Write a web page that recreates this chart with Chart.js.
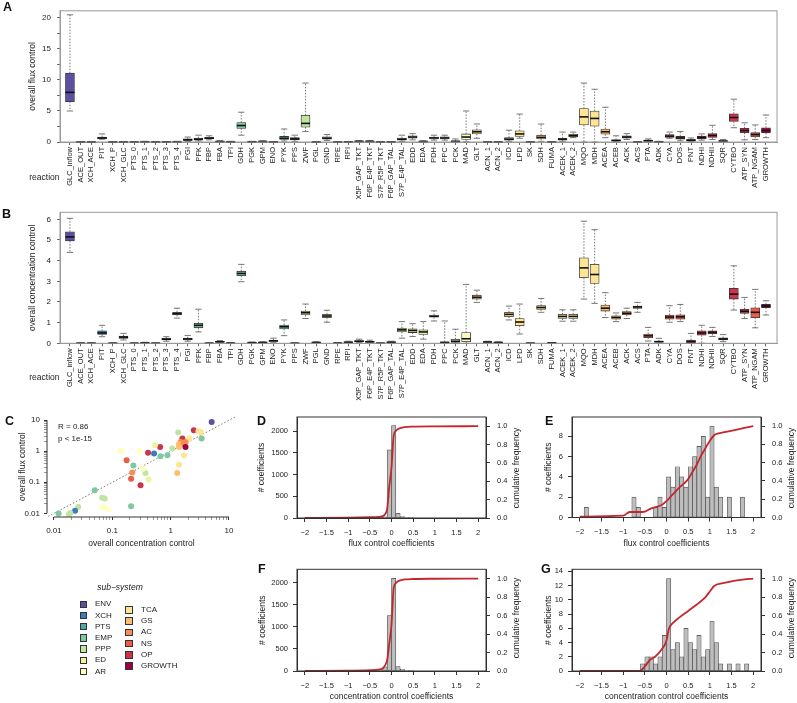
<!DOCTYPE html>
<html>
<head>
<meta charset="utf-8">
<title>Flux and concentration control</title>
<script src="https://cdn.jsdelivr.net/npm/chart.js@4.4.1/dist/chart.umd.min.js"></script>
<style>
  body { margin: 0; background: #fff; }
  #fig { position: relative; width: 797px; height: 703px; overflow: hidden; font-family: "Liberation Sans", Arial, sans-serif; color: #222; }
  #fig canvas { position: absolute; left: 0; top: 0; }
  .t { position: absolute; white-space: nowrap; font-size: 8.5px; line-height: 10px; }
  .panel { position: absolute; font-size: 12.5px; font-weight: bold; line-height: 13px; color: #111; }
  .sq { position: absolute; width: 7.5px; height: 7.5px; box-sizing: border-box; border: 1px solid #333; }
</style>
</head>
<body>
<div id="fig">
  <canvas id="chartA" width="797" height="703"></canvas>
  <canvas id="chartB" width="797" height="703"></canvas>
  <canvas id="chartC" width="797" height="703"></canvas>
  <canvas id="chartD" width="797" height="703"></canvas>
  <canvas id="chartE" width="797" height="703"></canvas>
  <canvas id="chartF" width="797" height="703"></canvas>
  <canvas id="chartG" width="797" height="703"></canvas>
</div>
<script>
// ---- data ----
const reactions = ['GLC_inflow', 'ACE_OUT', 'XCH_ACE', 'PIT', 'XCH_P', 'XCH_GLC', 'PTS_0', 'PTS_1', 'PTS_2', 'PTS_3', 'PTS_4',
  'PGI', 'PFK', 'FBP', 'FBA', 'TPI', 'GDH', 'PGK', 'GPM', 'ENO', 'PYK', 'PPS',
  'ZWF', 'PGL', 'GND', 'RPE', 'RPI', 'X5P_GAP_TKT', 'F6P_E4P_TKT', 'S7P_R5P_TKT', 'F6P_GAP_TAL', 'S7P_E4P_TAL',
  'EDD', 'EDA', 'PDH', 'PPC', 'PCK', 'MAD', 'GLT', 'ACN_1', 'ACN_2', 'ICD', 'LPD', 'SK', 'SDH', 'FUMA',
  'ACEK_1', 'ACEK_2', 'MQO', 'MDH', 'ACEA', 'ACEB', 'ACK', 'ACS', 'PTA', 'ADK', 'CYA', 'DOS',
  'PNT', 'NDHI', 'NDHII', 'SQR', 'CYTBO', 'ATP_SYN', 'ATP_NGAM', 'GROWTH'];

const reactionGroups = ['ENV', 'ENV', 'XCH', 'XCH', 'XCH', 'XCH', 'PTS', 'PTS', 'PTS', 'PTS', 'PTS',
  'EMP', 'EMP', 'EMP', 'EMP', 'EMP', 'EMP', 'EMP', 'EMP', 'EMP', 'EMP', 'EMP',
  'PPP', 'PPP', 'PPP', 'PPP', 'PPP', 'PPP', 'PPP', 'PPP', 'PPP', 'PPP',
  'ED', 'ED', 'AR', 'AR', 'AR', 'AR', 'TCA', 'TCA', 'TCA', 'TCA', 'TCA', 'TCA', 'TCA', 'TCA',
  'TCA', 'TCA', 'TCA', 'TCA', 'GS', 'GS', 'AC', 'AC', 'AC', 'NS', 'NS', 'NS',
  'OP', 'OP', 'OP', 'OP', 'OP', 'OP', 'NS', 'GROWTH'];

const groupNames = ['ENV', 'XCH', 'PTS', 'EMP', 'PPP', 'ED', 'AR', 'TCA', 'GS', 'AC', 'NS', 'OP', 'GROWTH'];
const groupColors = {
  ENV: '#5E4FA2', XCH: '#397EB8', PTS: '#4FA8A4', EMP: '#7FC8A0', PPP: '#BFE5A0', ED: '#EAF59E', AR: '#FFFFBF',
  TCA: '#FEE594', GS: '#FDBF6F', AC: '#F98E52', NS: '#EA5D47', OP: '#CC344D', GROWTH: '#9E0142'
};

// [lower whisker, q1, median, q3, upper whisker] per reaction
const fluxStats = [
  [5.0, 6.5, 8.0, 11.1, 20.5], [0, 0.005, 0.01, 0.02, 0.04], [0, 0.005, 0.01, 0.02, 0.04], [0.45, 0.55, 0.65, 0.78, 1.3],
  [0, 0.005, 0.01, 0.02, 0.04], [0, 0.01, 0.02, 0.03, 0.06], [0, 0.01, 0.02, 0.03, 0.06], [0, 0.02, 0.04, 0.06, 0.1],
  [0, 0.01, 0.02, 0.03, 0.06], [0, 0.01, 0.03, 0.05, 0.08], [0, 0.02, 0.04, 0.06, 0.1],
  [0.1, 0.25, 0.35, 0.5, 0.8], [0.15, 0.3, 0.45, 0.62, 1.1], [0.35, 0.5, 0.62, 0.75, 1.0], [0.02, 0.05, 0.08, 0.12, 0.2],
  [0, 0.02, 0.04, 0.06, 0.1], [1.1, 2.2, 2.65, 3.15, 4.8], [0, 0.02, 0.04, 0.06, 0.1], [0.02, 0.05, 0.08, 0.12, 0.2],
  [0, 0.01, 0.02, 0.03, 0.05], [0.15, 0.4, 0.6, 0.9, 2.1], [0.1, 0.35, 0.5, 0.7, 1.1],
  [1.7, 2.4, 3.0, 4.3, 9.5], [0, 0.01, 0.02, 0.03, 0.05], [0.25, 0.45, 0.62, 0.85, 1.2], [0, 0.01, 0.02, 0.03, 0.05],
  [0, 0.02, 0.03, 0.05, 0.08], [0.02, 0.06, 0.1, 0.14, 0.22], [0.02, 0.06, 0.1, 0.14, 0.22], [0, 0.01, 0.02, 0.04, 0.06],
  [0, 0.01, 0.02, 0.04, 0.06], [0.1, 0.3, 0.45, 0.65, 1.1],
  [0.35, 0.6, 0.8, 1.0, 1.35], [0.02, 0.05, 0.08, 0.12, 0.2], [0.3, 0.5, 0.65, 0.8, 1.1], [0.3, 0.5, 0.65, 0.85, 1.1],
  [0.02, 0.05, 0.1, 0.2, 0.5], [0.05, 0.4, 0.8, 1.3, 5.0], [0.6, 1.3, 1.65, 1.95, 2.9], [0, 0.01, 0.02, 0.03, 0.05],
  [0, 0.01, 0.02, 0.03, 0.05], [0.1, 0.3, 0.45, 0.7, 1.9], [0.6, 0.9, 1.3, 1.8, 4.5], [0, 0.01, 0.02, 0.03, 0.05],
  [0.1, 0.5, 0.75, 1.1, 2.9], [0, 0.01, 0.02, 0.03, 0.05],
  [0.1, 0.3, 0.45, 0.6, 1.6], [0.7, 0.8, 1.0, 1.25, 1.6], [0, 2.75, 4.05, 5.4, 9.5], [0, 2.55, 3.8, 5.0, 8.5],
  [0.7, 1.25, 1.65, 2.1, 5.6], [0.05, 0.15, 0.25, 0.35, 1.0], [0.4, 0.6, 0.8, 1.0, 1.35], [0, 0.01, 0.02, 0.03, 0.05],
  [0.02, 0.1, 0.2, 0.3, 0.5], [0, 0.02, 0.04, 0.06, 0.1], [0.6, 0.75, 0.95, 1.2, 1.6], [0.2, 0.45, 0.65, 0.9, 1.7],
  [0.05, 0.15, 0.3, 0.4, 0.65], [0.3, 0.55, 0.75, 0.95, 1.3], [0.4, 0.75, 1.05, 1.35, 2.7], [0.02, 0.08, 0.15, 0.2, 0.4],
  [2.3, 3.3, 3.95, 4.55, 6.9], [0.35, 1.5, 1.85, 2.2, 3.1], [0.4, 0.82, 1.2, 1.5, 2.75], [0.7, 1.45, 1.85, 2.3, 4.35]
];

const concStats = [
  [4.4, 4.95, 5.15, 5.4, 6.05], [0, 0.002, 0.005, 0.01, 0.02], [0, 0.002, 0.005, 0.01, 0.02], [0.32, 0.43, 0.5, 0.6, 0.87],
  [0, 0.002, 0.005, 0.01, 0.02], [0.16, 0.24, 0.3, 0.35, 0.48], [0, 0.002, 0.005, 0.01, 0.02], [0, 0.01, 0.02, 0.03, 0.05],
  [0, 0.002, 0.005, 0.01, 0.02], [0.1, 0.16, 0.2, 0.24, 0.32], [1.22, 1.37, 1.43, 1.5, 1.7],
  [0.1, 0.16, 0.21, 0.25, 0.38], [0.55, 0.75, 0.87, 0.97, 1.65], [0, 0.002, 0.005, 0.01, 0.02], [0.02, 0.05, 0.07, 0.1, 0.13],
  [0, 0.005, 0.01, 0.015, 0.03], [2.98, 3.27, 3.38, 3.49, 3.82], [0.01, 0.02, 0.03, 0.04, 0.06], [0.01, 0.03, 0.04, 0.05, 0.07],
  [0.05, 0.09, 0.12, 0.15, 0.25], [0.37, 0.69, 0.8, 0.88, 1.13], [0, 0.002, 0.005, 0.01, 0.02],
  [1.2, 1.37, 1.48, 1.56, 1.9], [0.01, 0.03, 0.04, 0.05, 0.07], [1.02, 1.24, 1.32, 1.4, 1.6], [0, 0.005, 0.01, 0.015, 0.03],
  [0.02, 0.04, 0.05, 0.07, 0.1], [0.04, 0.08, 0.1, 0.13, 0.2], [0.03, 0.05, 0.07, 0.09, 0.15], [0, 0.002, 0.005, 0.01, 0.02],
  [0.02, 0.04, 0.05, 0.07, 0.1], [0.25, 0.55, 0.65, 0.74, 1.05],
  [0.33, 0.52, 0.62, 0.7, 0.95], [0.2, 0.43, 0.55, 0.65, 1.05], [1.08, 1.26, 1.31, 1.37, 1.57], [0, 0.02, 0.04, 0.07, 1.08],
  [0, 0.04, 0.1, 0.2, 0.68], [0, 0.08, 0.22, 0.52, 2.85], [1.98, 2.14, 2.23, 2.33, 2.57], [0.02, 0.04, 0.06, 0.08, 0.1],
  [0.01, 0.03, 0.04, 0.05, 0.07], [1.13, 1.29, 1.4, 1.5, 1.8], [0.45, 0.85, 1.03, 1.2, 1.9], [0, 0.002, 0.005, 0.01, 0.02],
  [1.5, 1.64, 1.73, 1.82, 2.17], [0.01, 0.015, 0.02, 0.025, 0.04],
  [1.07, 1.2, 1.3, 1.4, 1.62], [1.07, 1.2, 1.3, 1.4, 1.62], [2.14, 3.17, 3.65, 4.14, 5.91], [1.93, 2.9, 3.33, 3.82, 5.5],
  [1.25, 1.56, 1.7, 1.85, 2.45], [1.05, 1.17, 1.25, 1.33, 1.47], [1.2, 1.37, 1.45, 1.53, 1.7], [1.5, 1.69, 1.76, 1.8, 1.98],
  [0.11, 0.27, 0.36, 0.45, 0.77], [0.01, 0.05, 0.08, 0.1, 0.24], [1.02, 1.17, 1.27, 1.37, 1.82], [1.05, 1.17, 1.28, 1.38, 1.88],
  [0, 0.02, 0.08, 0.16, 0.48], [0, 0.39, 0.5, 0.6, 0.87], [0.33, 0.45, 0.53, 0.6, 0.77], [0.08, 0.16, 0.21, 0.26, 0.42],
  [1.61, 2.14, 2.38, 2.66, 3.75], [1.2, 1.45, 1.55, 1.66, 2.22], [0.75, 1.24, 1.5, 1.72, 2.61], [1.37, 1.72, 1.8, 1.88, 2.06]
];

const fluxTicks = [0, 2.5, 5, 7.5, 10, 12.5, 15, 17.5, 20];
const fluxTickLabels = ['0', '', '5', '', '10', '', '15', '', '20'];
const concTicks = [0, 1, 2, 3, 4, 5, 6];
const concTickLabels = ['0', '1', '2', '3', '4', '5', '6'];

// panel C: overall concentration control vs overall flux control
const cConc = [5.05, 2.5, 3.0, 3.3, 2.1, 3.4, 1.35, 1.59, 1.48, 1.8, 1.39, 1.65, 1.8, 1.39, 1.07, 0.88, 0.67, 0.52, 0.66, 0.54,
  0.41, 0.29, 0.14, 0.176, 0.23, 0.22, 0.21, 0.305, 0.37, 0.34, 0.42, 1.69, 1.39, 1.3, 0.05, 0.067, 0.074, 0.067, 0.084, 0.21,
  0.026, 0.023, 0.019, 0.018, 0.012];
const cFlux = [8.8, 4.75, 4.4, 4.0, 2.6, 2.6, 4.0, 2.57, 2.0, 2.0, 1.68, 1.68, 1.38, 1.38, 1.22, 0.74, 0.69, 0.84, 1.38, 1.56,
  0.9, 1.02, 1.02, 0.51, 0.35, 0.205, 0.13, 0.08, 0.2, 0.28, 0.122, 0.74, 0.37, 0.2, 0.055, 0.032, 0.03, 0.016, 0.0135, 0.017,
  0.016, 0.012, 0.0103, 0.0092, 0.0098];
const cGroup = ['ENV', 'OP', 'TCA', 'TCA', 'TCA', 'EMP', 'PPP', 'OP', 'AC', 'AC', 'GS', 'AC', 'GROWTH', 'GS', 'PPP', 'EMP', 'EMP', 'XCH', 'OP', 'ED',
  'OP', 'AR', 'AR', 'NS', 'EMP', 'AC', 'NS', 'OP', 'PPP', 'AR', 'ED', 'TCA', 'TCA', 'GS', 'EMP', 'PPP', 'PPP', 'AR', 'AR', 'EMP',
  'PPP', 'XCH', 'PPP', 'PPP', 'EMP'];
const identityLine = [0.001, 100];
const logTickValues = [0.01, 0.1, 1, 10];
const logTickLabels = ['0.01', '0.1', '1', '10'];

// panels D-G: histograms (bin mids, counts) and cumulative frequency
const coefTicks = [-2, -1.5, -1, -0.5, 0, 0.5, 1, 1.5, 2];
const coefTickLabels = ['\u22122', '\u22121.5', '\u22121', '\u22120.5', '0', '0.5', '1', '1.5', '2'];
const cumTicks = [0, 0.2, 0.4, 0.6, 0.8, 1.0];

const fluxAllMid = [-0.35, -0.25, -0.15, -0.05, 0.05, 0.15, 0.25, 0.35, 0.45];
const fluxAllCount = [5, 10, 25, 1570, 2130, 105, 35, 12, 5];
const fluxAllCumX = [-2, -1, -0.5, -0.3, -0.2, -0.15, -0.1, -0.05, 0, 0.05, 0.1, 0.15, 0.2, 0.3, 0.5, 1, 2];
const fluxAllCumY = [0.002, 0.004, 0.008, 0.012, 0.02, 0.04, 0.1, 0.35, 0.55, 0.9, 0.95, 0.97, 0.98, 0.99, 0.995, 0.998, 1.0];

const fluxSubMid = [-1.85, -0.75, -0.65, -0.25, -0.15, -0.05, 0.05, 0.15, 0.25, 0.35, 0.45, 0.55, 0.65, 0.75, 0.85, 0.95, 1.05, 1.15, 1.25, 1.45, 1.75];
const fluxSubCount = [1, 2, 1, 1, 2, 1, 4, 3, 5, 4, 3, 5, 6, 7, 8, 2, 9, 3, 2, 2, 2];
const fluxSubCumX = [-2, -1, -0.85, -0.55, -0.35, -0.1, 0, 0.1, 0.2, 0.3, 0.4, 0.5, 0.6, 0.7, 0.8, 0.9, 1.0, 1.1, 1.2, 1.4, 1.6, 1.8, 2];
const fluxSubCumY = [0.01, 0.02, 0.06, 0.06, 0.1, 0.14, 0.18, 0.23, 0.28, 0.33, 0.37, 0.42, 0.5, 0.58, 0.68, 0.76, 0.84, 0.9, 0.92, 0.94, 0.96, 0.98, 1.0];

const concAllMid = [-0.35, -0.25, -0.15, -0.05, 0.05, 0.15, 0.25, 0.35, 0.45];
const concAllCount = [5, 25, 95, 1260, 2105, 100, 40, 12, 5];
const concAllCumX = [-2, -1, -0.5, -0.3, -0.2, -0.15, -0.1, -0.05, 0, 0.05, 0.1, 0.15, 0.2, 0.3, 0.5, 1, 2];
const concAllCumY = [0.001, 0.003, 0.008, 0.015, 0.03, 0.06, 0.12, 0.3, 0.5, 0.9, 0.95, 0.97, 0.98, 0.99, 0.995, 0.998, 1.0];

const concSubMid = [-0.55, -0.45, -0.35, -0.25, -0.15, -0.05, 0.05, 0.15, 0.25, 0.35, 0.45, 0.55, 0.65, 0.75, 0.85, 0.95, 1.05, 1.15, 1.25, 1.45, 1.65, 1.85];
const concSubCount = [1, 2, 2, 1, 2, 5, 13, 3, 4, 2, 6, 4, 3, 5, 2, 3, 7, 4, 1, 1, 1, 1];
const concSubCumX = [-2, -0.62, -0.5, -0.38, -0.25, -0.1, 0, 0.05, 0.15, 0.3, 0.5, 0.7, 0.9, 1.0, 1.1, 1.3, 1.5, 1.8, 2];
const concSubCumY = [0, 0, 0.05, 0.12, 0.16, 0.24, 0.33, 0.45, 0.52, 0.58, 0.65, 0.72, 0.8, 0.86, 0.92, 0.95, 0.97, 0.99, 1.0];

// ---- setup ----
Chart.defaults.font.family = '"Liberation Sans", Arial, sans-serif';
Chart.defaults.font.size = 8;
Chart.defaults.color = '#222';
Chart.defaults.animation = false;
Chart.defaults.plugins.legend.display = false;
Chart.defaults.plugins.tooltip.enabled = false;

const W = 797, H = 703;
const TITLE_HALF = 5.1; // half line height of 8.5px titles

// frame around the plot area (A, B, D-G)
Chart.register({
  id: 'frame',
  afterDraw(chart, args, opts) {
    if (!opts.color) return;
    const { ctx, chartArea: a } = chart;
    ctx.save();
    ctx.strokeStyle = opts.color;
    ctx.lineWidth = 1;
    ctx.strokeRect(a.left, a.top, a.right - a.left, a.bottom - a.top);
    ctx.restore();
  }
});

function boxPlugin(stats) {
  return {
    id: 'boxWhiskers',
    beforeDatasetsDraw(chart) {
      const { ctx, scales: { x, y } } = chart;
      const bars = chart.getDatasetMeta(0).data;
      ctx.save();
      ctx.strokeStyle = '#555';
      ctx.lineWidth = 0.8;
      stats.forEach((s, i) => {
        const px = x.getPixelForValue(i + 1);
        const cap = bars[i].width * 0.35;
        const yLo = y.getPixelForValue(s[0]), yQ1 = y.getPixelForValue(s[1]);
        const yQ3 = y.getPixelForValue(s[3]), yHi = y.getPixelForValue(s[4]);
        ctx.setLineDash([1.5, 1.5]);
        ctx.beginPath();
        ctx.moveTo(px, yQ3); ctx.lineTo(px, yHi);
        ctx.moveTo(px, yQ1); ctx.lineTo(px, yLo);
        ctx.stroke();
        ctx.setLineDash([]);
        ctx.beginPath();
        ctx.moveTo(px - cap, yHi); ctx.lineTo(px + cap, yHi);
        ctx.moveTo(px - cap, yLo); ctx.lineTo(px + cap, yLo);
        ctx.stroke();
      });
      ctx.restore();
    },
    afterDatasetsDraw(chart) {
      const { ctx, scales: { x, y } } = chart;
      const bars = chart.getDatasetMeta(0).data;
      ctx.save();
      ctx.strokeStyle = '#111';
      ctx.lineWidth = 1.6;
      stats.forEach((s, i) => {
        const px = x.getPixelForValue(i + 1);
        const half = bars[i].width / 2;
        const ym = y.getPixelForValue(s[2]);
        ctx.beginPath(); ctx.moveTo(px - half, ym); ctx.lineTo(px + half, ym); ctx.stroke();
      });
      ctx.restore();
    }
  };
}

function boxChart(id, stats, yMax, ticks, tickLabels, title, top, bottom) {
  return new Chart(document.getElementById(id), {
    type: 'bar',
    data: {
      datasets: [{
        data: stats.map((s, i) => ({ x: i + 1, y: [s[1], s[3]] })),
        backgroundColor: reactionGroups.map(g => groupColors[g]),
        borderColor: '#333',
        borderWidth: 0.8,
        borderSkipped: false,
        barThickness: 9
      }]
    },
    options: {
      responsive: false,
      layout: { padding: { left: 24, right: 20, top: top, bottom: H - bottom - 60 } },
      plugins: { frame: { color: '#9a9a9a' } },
      scales: {
        x: {
          type: 'linear', min: 0.07, max: 67.03, offset: false,
          afterBuildTicks: s => { s.ticks = reactions.map((r, i) => ({ value: i + 1 })); },
          afterFit: s => { s.height = 60; },
          ticks: { autoSkip: false, minRotation: 90, maxRotation: 90, padding: 2, font: { size: 7.5 }, callback: (v, i) => reactions[i] },
          grid: { drawOnChartArea: false, offset: false, tickLength: 3, color: '#666' },
          border: { color: '#9a9a9a' }
        },
        y: {
          min: 0, max: yMax,
          afterBuildTicks: s => { s.ticks = ticks.map(v => ({ value: v })); },
          afterFit: s => { s.width = 36; },
          ticks: { padding: 6, font: { size: 8 }, callback: (v, i) => tickLabels[i] },
          grid: { drawOnChartArea: false, tickLength: 3, color: '#666' },
          border: { color: '#9a9a9a' },
          title: { display: true, text: title, font: { size: 8.5 }, padding: { top: 4, bottom: 0 } }
        }
      }
    },
    plugins: [boxPlugin(stats)]
  });
}

boxChart('chartA', fluxStats, 21.15, fluxTicks, fluxTickLabels, 'overall flux control', 6, 142);
boxChart('chartB', concStats, 6.34, concTicks, concTickLabels, 'overall concentration control', 212.3, 343.3);

// ---- panel C ----
function logTicks(s) {
  const t = [];
  [0.01, 0.1, 1].forEach(d => { for (let m = 1; m < 10; m++) t.push({ value: +(d * m).toPrecision(3) }); });
  t.push({ value: 10 });
  s.ticks = t;
}
function logLabel(v) {
  const i = logTickValues.findIndex(t => Math.abs(t - v) / t < 1e-6);
  return i >= 0 ? logTickLabels[i] : '';
}
function isMajor(ctx) {
  return ctx.tick && logTickValues.some(t => Math.abs(t - ctx.tick.value) / t < 1e-6);
}

const cLeft = 47, cRight = 236, cTop = 416.3, cBottom = 517, cTitleY = 544;
new Chart(document.getElementById('chartC'), {
  type: 'scatter',
  data: {
    datasets: [{
      data: cConc.map((x, i) => ({ x, y: cFlux[i] })),
      pointBackgroundColor: cGroup.map(g => groupColors[g]),
      pointBorderWidth: 0,
      pointRadius: 3,
      order: 0
    }, {
      type: 'line',
      data: identityLine.map(v => ({ x: v, y: v })),
      borderColor: '#777',
      borderWidth: 1,
      borderDash: [1.5, 2],
      pointRadius: 0,
      order: 1
    }]
  },
  options: {
    responsive: false,
    layout: { padding: { left: 13.4, right: W - cRight, top: cTop, bottom: H - cTitleY - TITLE_HALF } },
    scales: {
      x: {
        type: 'logarithmic', min: 0.0076, max: 13.2,
        afterBuildTicks: logTicks,
        afterFit: s => { s.height = cTitleY + TITLE_HALF - cBottom; },
        ticks: { autoSkip: false, maxRotation: 0, padding: 6, font: { size: 8 }, callback: logLabel },
        grid: { drawOnChartArea: false, tickLength: 3, tickColor: c => isMajor(c) ? '#333' : '#999' },
        border: { display: false },
        title: { display: true, text: 'overall concentration control', font: { size: 8.5 }, padding: { top: 0, bottom: 0 } }
      },
      y: {
        type: 'logarithmic', min: 0.0076, max: 13.4,
        afterBuildTicks: logTicks,
        afterFit: s => { s.width = cLeft - 13.4; },
        ticks: { autoSkip: false, padding: 4, font: { size: 8 }, callback: logLabel },
        grid: { drawOnChartArea: false, tickLength: 3, tickColor: c => isMajor(c) ? '#333' : '#999' },
        border: { display: false },
        title: { display: true, text: 'overall flux control', font: { size: 8.5 }, padding: { top: 4, bottom: 0 } }
      }
    }
  },
  plugins: [{
    id: 'axisLines',
    afterDraw(chart) {
      const { ctx, chartArea: a, scales: { x, y } } = chart;
      ctx.save();
      ctx.strokeStyle = '#333';
      ctx.lineWidth = 1;
      ctx.beginPath();
      ctx.moveTo(a.left, y.getPixelForValue(logTickValues[0]));
      ctx.lineTo(a.left, y.getPixelForValue(logTickValues[3]));
      ctx.moveTo(x.getPixelForValue(logTickValues[0]), a.bottom);
      ctx.lineTo(x.getPixelForValue(logTickValues[3]), a.bottom);
      ctx.stroke();
      ctx.restore();
    }
  }]
});

// ---- panels D-G ----
function histChart(id, g) {
  const padLeft = g.leftTitleX - 4 - TITLE_HALF;
  const xAxisH = g.titleY + TITLE_HALF - g.bottom;
  return new Chart(document.getElementById(id), {
    type: 'bar',
    data: {
      datasets: [{
        type: 'line',
        data: g.cumX.map((x, i) => ({ x, y: g.cumY[i] })),
        yAxisID: 'y1',
        borderColor: '#C4262E',
        borderWidth: 1.8,
        pointRadius: 0,
        cubicInterpolationMode: 'monotone',
        order: 0
      }, {
        data: g.mids.map((x, i) => ({ x, y: g.counts[i] })),
        yAxisID: 'y',
        backgroundColor: '#BDBDBD',
        borderColor: '#4a4a4a',
        borderWidth: 0.7,
        borderSkipped: false,
        barPercentage: 1,
        categoryPercentage: 1,
        order: 1
      }]
    },
    options: {
      responsive: false,
      layout: { padding: { left: padLeft, right: W - g.right - 30, top: g.top, bottom: H - g.bottom - xAxisH } },
      plugins: { frame: { color: '#333' } },
      scales: {
        x: {
          type: 'linear', min: -2.18, max: 2.18, offset: false,
          afterBuildTicks: s => { s.ticks = coefTicks.map(v => ({ value: v })); },
          afterFit: s => { s.height = xAxisH; },
          ticks: { autoSkip: false, maxRotation: 0, padding: 6, font: { size: 7.5 }, callback: (v, i) => coefTickLabels[i] },
          grid: { drawOnChartArea: false, offset: false, tickLength: 4, color: '#333' },
          border: { color: '#333' },
          title: { display: true, text: g.title, font: { size: 8.5 }, padding: { top: 0, bottom: 0 } }
        },
        y: {
          min: 0, max: g.countMax,
          afterBuildTicks: s => { s.ticks = g.countTicks.map(v => ({ value: v })); },
          afterFit: s => { s.width = g.left - padLeft; },
          ticks: { padding: 5, font: { size: 7.5 }, callback: v => String(v) },
          grid: { drawOnChartArea: false, tickLength: 4, color: '#333' },
          border: { color: '#333' },
          title: { display: true, text: '# coefficients', font: { size: 8.5 }, padding: { top: 4, bottom: 0 } }
        },
        y1: {
          position: 'right', min: 0, max: 1.1,
          afterBuildTicks: s => { s.ticks = cumTicks.map(v => ({ value: v })); },
          afterFit: s => { s.width = 30; },
          ticks: { padding: 7, font: { size: 7.5 }, callback: v => v.toFixed(1) },
          grid: { drawOnChartArea: false, tickLength: 4, color: '#333' },
          border: { color: '#333' }
        }
      }
    }
  });
}

histChart('chartD', { mids: fluxAllMid, counts: fluxAllCount, cumX: fluxAllCumX, cumY: fluxAllCumY,
  countMax: 2330, countTicks: [0, 500, 1000, 1500, 2000], title: 'flux control coefficients',
  left: 297, right: 486, top: 417, bottom: 518, leftTitleX: 261.7, titleY: 544 });
histChart('chartE', { mids: fluxSubMid, counts: fluxSubCount, cumX: fluxSubCumX, cumY: fluxSubCumY,
  countMax: 9.9, countTicks: [0, 2, 4, 6, 8], title: 'flux control coefficients',
  left: 572, right: 761, top: 417, bottom: 517.5, leftTitleX: 549, titleY: 544 });
histChart('chartF', { mids: concAllMid, counts: concAllCount, cumX: concAllCumX, cumY: concAllCumY,
  countMax: 2310, countTicks: [0, 500, 1000, 1500, 2000], title: 'concentration control coefficients',
  left: 297, right: 486, top: 569.3, bottom: 671, leftTitleX: 262.7, titleY: 697 });
histChart('chartG', { mids: concSubMid, counts: concSubCount, cumX: concSubCumX, cumY: concSubCumY,
  countMax: 14.3, countTicks: [0, 2, 4, 6, 8, 10, 12, 14], title: 'concentration control coefficients',
  left: 572, right: 761, top: 569.3, bottom: 671, leftTitleX: 549, titleY: 697 });

// ---- text layer ----
const fig = document.getElementById('fig');
function addText(str, x, y, align, rotate, style) {
  const d = document.createElement('div');
  d.className = 't';
  d.textContent = str;
  d.style.left = x + 'px';
  d.style.top = y + 'px';
  const tx = align === 'right' ? '-100%' : align === 'center' ? '-50%' : '0';
  d.style.transform = 'translate(' + tx + ', -50%)' + (rotate ? ' rotate(-90deg)' : '');
  if (style) Object.assign(d.style, style);
  fig.appendChild(d);
  return d;
}
function addPanel(letter, x, y) {
  const d = document.createElement('div');
  d.className = 'panel';
  d.textContent = letter;
  d.style.left = x + 'px';
  d.style.top = y + 'px';
  fig.appendChild(d);
}

addPanel('A', 3, 1.3);
addPanel('B', 2, 208.3);
addPanel('C', 5, 415);
addPanel('D', 257, 415);
addPanel('E', 545, 415);
addPanel('F', 258, 562.5);
addPanel('G', 541, 562.5);

addText('reaction', 59.5, 177, 'right');
addText('reaction', 59.5, 377, 'right');
addText('R = 0.86', 58, 427, 'left', false, { fontSize: '8px' });
addText('p < 1e-15', 58, 439, 'left', false, { fontSize: '8px' });

addText('cumulative frequency', 516, 467.5, 'center', true);
addText('cumulative frequency', 791, 467.5, 'center', true);
addText('cumulative frequency', 516, 618, 'center', true);
addText('cumulative frequency', 791, 618, 'center', true);

// legend
addText('sub\u2212system', 120, 586.7, 'center', false, { fontStyle: 'italic' });
groupNames.forEach((g, i) => {
  const col = i < 7 ? 0 : 1;
  const row = col ? i - 7 : i;
  const y = (col ? 610 : 604.3) + row * 11.2;
  const sq = document.createElement('div');
  sq.className = 'sq';
  sq.style.left = (col ? 125 : 79.5) + 'px';
  sq.style.top = (y - 3.75) + 'px';
  sq.style.background = groupColors[g];
  fig.appendChild(sq);
  addText(g, col ? 141 : 95, y, 'left', false, { fontSize: '8px' });
});
</script>
</body>
</html>
